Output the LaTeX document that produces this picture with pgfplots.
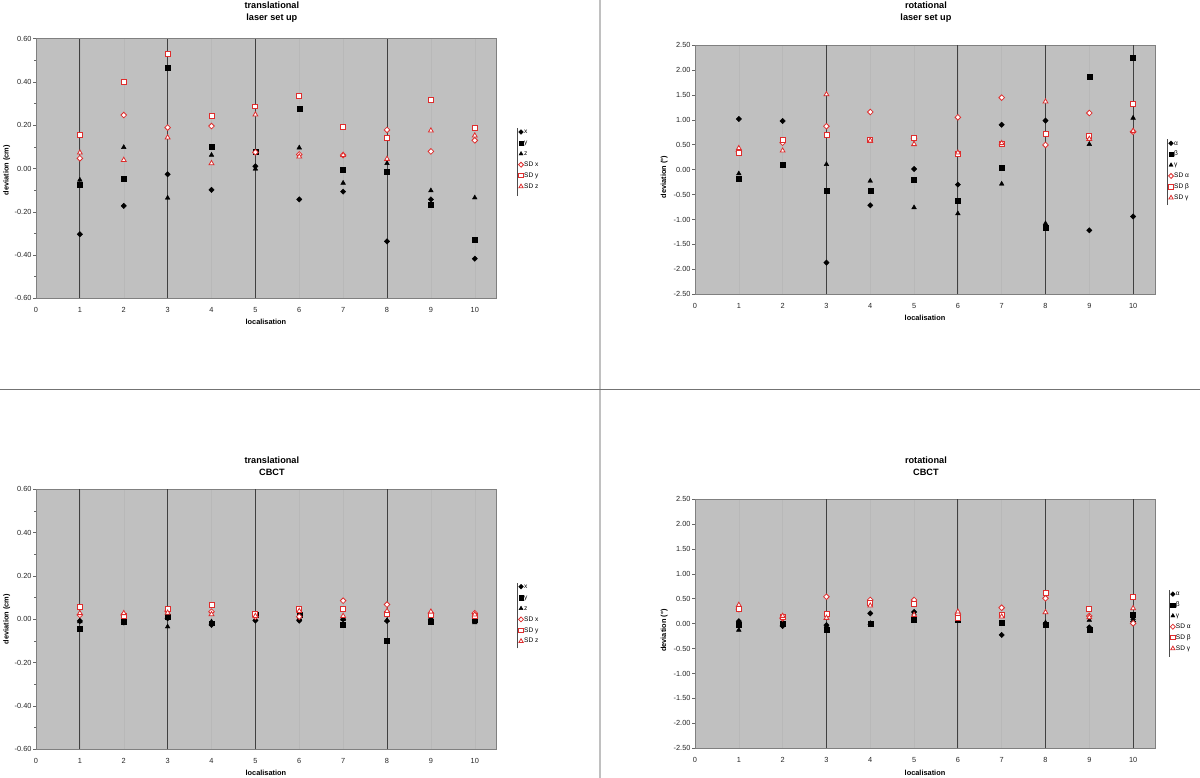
\documentclass[border=0pt]{standalone}
\usepackage{pgfplots}
\pgfplotsset{compat=1.18}
\usepackage{pgfplotstable}
\usepackage{fontspec}
\setmainfont{Liberation Sans}
\definecolor{bg}{RGB}{192,192,192}
\definecolor{sdred}{RGB}{222,45,45}
\definecolor{vline}{RGB}{64,64,64}
\definecolor{faint}{RGB}{184,184,184}

\pgfplotstableread{
n a b c sa sb sc
1 -0.304 -0.073 -0.053 0.047 0.155 0.073
2 -0.173 -0.047 0.098 0.247 0.401 0.039
3 -0.027 0.466 -0.136 0.189 0.528 0.143
4 -0.099 0.102 0.062 0.196 0.244 0.024
5 0.010 0.076 -0.002 0.075 0.287 0.249
6 -0.143 0.278 0.096 0.065 0.335 0.055
7 -0.107 -0.007 -0.067 0.062 0.193 0.062
8 -0.337 -0.015 0.024 0.178 0.141 0.044
9 -0.143 -0.169 -0.102 0.079 0.315 0.175
10 -0.417 -0.329 -0.135 0.130 0.187 0.152
}\tTL

\pgfplotstableread{
n a b c sa sb sc
1 1.016 -0.18 -0.08 0.36 0.33 0.43
2 0.976 0.10 0.07 0.54 0.595 0.38
3 -1.865 -0.42 0.107 0.87 0.695 1.51
4 -0.715 -0.42 -0.227 1.156 0.595 0.58
5 0.013 -0.207 -0.76 0.62 0.64 0.51
6 -0.30 -0.615 -0.88 1.05 0.31 0.34
7 0.90 0.033 -0.287 1.444 0.515 0.53
8 0.983 -1.16 -1.08 0.495 0.71 1.364
9 -1.217 1.87 0.51 1.136 0.675 0.615
10 -0.94 2.245 1.036 0.76 1.317 0.775
}\tTR

\pgfplotstableread{
n a b c sa sb sc
1 -0.008 -0.042 -0.010 0.020 0.055 0.028
2 -0.015 -0.010 -0.010 0.020 0.015 0.028
3 0.005 0.012 -0.034 0.038 0.046 0.030
4 -0.026 -0.018 -0.011 0.035 0.065 0.023
5 -0.006 0.020 0.000 0.012 0.023 0.015
6 -0.006 0.023 0.005 0.012 0.046 0.038
7 0.000 -0.023 0.000 0.086 0.048 0.015
8 -0.008 -0.098 -0.005 0.068 0.023 0.038
9 0.000 -0.011 -0.010 0.028 0.020 0.035
10 -0.003 -0.003 -0.015 0.028 0.015 0.022
}\tBL

\pgfplotstableread{
n a b c sa sb sc
1 0.05 -0.03 -0.127 0.29 0.287 0.374
2 -0.047 0.007 -0.007 0.107 0.127 0.154
3 -0.03 -0.114 -0.05 0.54 0.20 0.114
4 0.207 -0.007 0.007 0.475 0.41 0.36
5 0.234 0.074 0.20 0.475 0.388 0.174
6 0.15 0.074 0.22 0.19 0.107 0.24
7 -0.227 0.02 -0.007 0.32 0.174 0.14
8 -0.007 -0.027 0.02 0.508 0.608 0.227
9 -0.074 -0.114 0.07 0.154 0.287 0.127
10 0.04 0.174 0.107 0.007 0.54 0.307
}\tBR

\pgfplotsset{
  sA/.style={only marks, mark=square*, black, mark size=1.9, mark options={rotate=45, fill=black}},
  sB/.style={only marks, mark=square*, black, mark size=2.5},
  sC/.style={only marks, mark=triangle*, black, mark size=2.7},
  sD/.style={only marks, mark=square*, sdred, mark size=2.0, mark options={rotate=45, fill=white, line width=0.8bp}},
  sE/.style={only marks, mark=square*, sdred, mark size=2.5, mark options={fill=white, line width=0.8bp}},
  sF/.style={only marks, mark=triangle*, sdred, mark size=2.8, mark options={fill=white, line width=0.8bp}},
  panel/.style={
    scale only axis, clip=false,
    axis background/.style={fill=bg},
    axis line style={draw=black!50, line width=0.8bp},
    xmin=0, xmax=10.5, xtick={0,1,...,10},
    xmajorgrids, major grid style={draw=faint, line width=0.5bp},
    x tick style={draw=none},
    ytick pos=left,
    y tick style={draw=black!60, line width=0.5bp},
    tick align=outside, major tick length=3bp, minor tick length=2bp,
    extra x tick style={grid=major, major grid style={draw=vline, line width=0.9bp}, tick style={draw=none}},
    extra x tick labels={},
    ticklabel style={font=\fontsize{7.4}{8}\selectfont, text=black!85},
    xticklabel style={yshift=-3bp},
    yticklabel style={xshift=2bp},
    /pgf/number format/assume math mode=true,
    yticklabel style={/pgf/number format/.cd, fixed, fixed zerofill, precision=2},
    label style={font=\bfseries\fontsize{7.4}{9}\selectfont},
    every axis title shift=0pt,
    title style={font=\bfseries\fontsize{9.2}{12}\selectfont, align=center, anchor=center},
    legend style={draw=none, fill=none, font=\fontsize{6.6}{7}\selectfont, anchor=north west,
      inner sep=0pt, row sep=3.2bp, cells={anchor=west},
      nodes={inner sep=0.6bp, text height=5bp, text depth=1.5bp}},
    legend image code/.code={\draw[##1, every mark/.append style={scale=0.88}] plot coordinates {(3bp,0bp)};},
  },
  transl/.style={ymin=-0.6, ymax=0.6, ytick={-0.6,-0.4,-0.2,0,0.2,0.4,0.6},
    minor ytick={-0.5,-0.3,-0.1,0.1,0.3,0.5}, ylabel={deviation (cm)}, xlabel={localisation}},
  rotat/.style={ymin=-2.5, ymax=2.5, ytick={-2.5,-2,-1.5,-1,-0.5,0,0.5,1,1.5,2,2.5},
    ylabel={deviation (°)}, xlabel={localisation}},
}

\newcommand\sixplots[1]{%
  \addplot[sA] table[x=n,y=a]{#1};
  \addplot[sB] table[x=n,y=b]{#1};
  \addplot[sC] table[x=n,y=c]{#1};
  \addplot[sD] table[x=n,y=sa]{#1};
  \addplot[sE] table[x=n,y=sb]{#1};
  \addplot[sF] table[x=n,y=sc]{#1};
}

\begin{document}
\begin{tikzpicture}[x=1bp,y=1bp]
\useasboundingbox (0,0) rectangle (1200,778);
\fill[white] (0,0) rectangle (1200,778);
\draw[draw=bg, line width=2bp] (600,0) -- (600,778);
\draw[draw=black!55, line width=1bp] (0,388.3) -- (1200,388.3);

% top left
\begin{axis}[panel, transl, at={(36bp,479.7bp)}, anchor=south west,
  width=460.7bp, height=259.6bp,
  extra x ticks={1,3,5,8},
  title={translational\\laser set up},
  title style={at={(axis description cs:0.512,1.103)}},
  xlabel style={at={(axis description cs:0.499,-0.091)}, anchor=center},
  ylabel style={at={(axis description cs:-0.0636,0.494)}, anchor=center},
  legend style={at={(axis description cs:1.047,0.656)}}]
\sixplots{\tTL}
\legend{x,y,z,SD x,SD y,SD z}
\draw[black!70, line width=0.6bp] (axis description cs:1.0447,0.394) -- (axis description cs:1.0447,0.656);
\end{axis}

% top right
\begin{axis}[panel, rotat, at={(695bp,483.7bp)}, anchor=south west,
  width=460bp, height=249.3bp,
  extra x ticks={3,6,8,10},
  title={rotational\\laser set up},
  title style={at={(axis description cs:0.502,1.132)}},
  xlabel style={at={(axis description cs:0.5,-0.096)}, anchor=center},
  ylabel style={at={(axis description cs:-0.0667,0.47)}, anchor=center},
  legend style={at={(axis description cs:1.029,0.622)}}]
\sixplots{\tTR}
\legend{α,β,γ,SD α,SD β,SD γ}
\draw[black!70, line width=0.6bp] (axis description cs:1.0267,0.358) -- (axis description cs:1.0267,0.622);
\end{axis}

% bottom left
\begin{axis}[panel, transl, at={(36bp,28.7bp)}, anchor=south west,
  width=460.7bp, height=260bp,
  extra x ticks={1,3,5,8},
  title={translational\\CBCT},
  title style={at={(axis description cs:0.512,1.087)}},
  xlabel style={at={(axis description cs:0.499,-0.09)}, anchor=center},
  ylabel style={at={(axis description cs:-0.0636,0.5)}, anchor=center},
  legend style={at={(axis description cs:1.047,0.641)}}]
\sixplots{\tBL}
\legend{x,y,z,SD x,SD y,SD z}
\draw[black!70, line width=0.6bp] (axis description cs:1.0447,0.388) -- (axis description cs:1.0447,0.641);
\end{axis}

% bottom right
\begin{axis}[panel, rotat, at={(695bp,29.7bp)}, anchor=south west,
  width=460bp, height=249.3bp,
  extra x ticks={3,6,8,10},
  title={rotational\\CBCT},
  title style={at={(axis description cs:0.502,1.13)}},
  xlabel style={at={(axis description cs:0.5,-0.098)}, anchor=center},
  ylabel style={at={(axis description cs:-0.0667,0.472)}, anchor=center},
  legend style={at={(axis description cs:1.033,0.635)}}]
\sixplots{\tBR}
\legend{α,β,γ,SD α,SD β,SD γ}
\draw[black!70, line width=0.6bp] (axis description cs:1.031,0.367) -- (axis description cs:1.031,0.635);
\end{axis}
\end{tikzpicture}
\end{document}
